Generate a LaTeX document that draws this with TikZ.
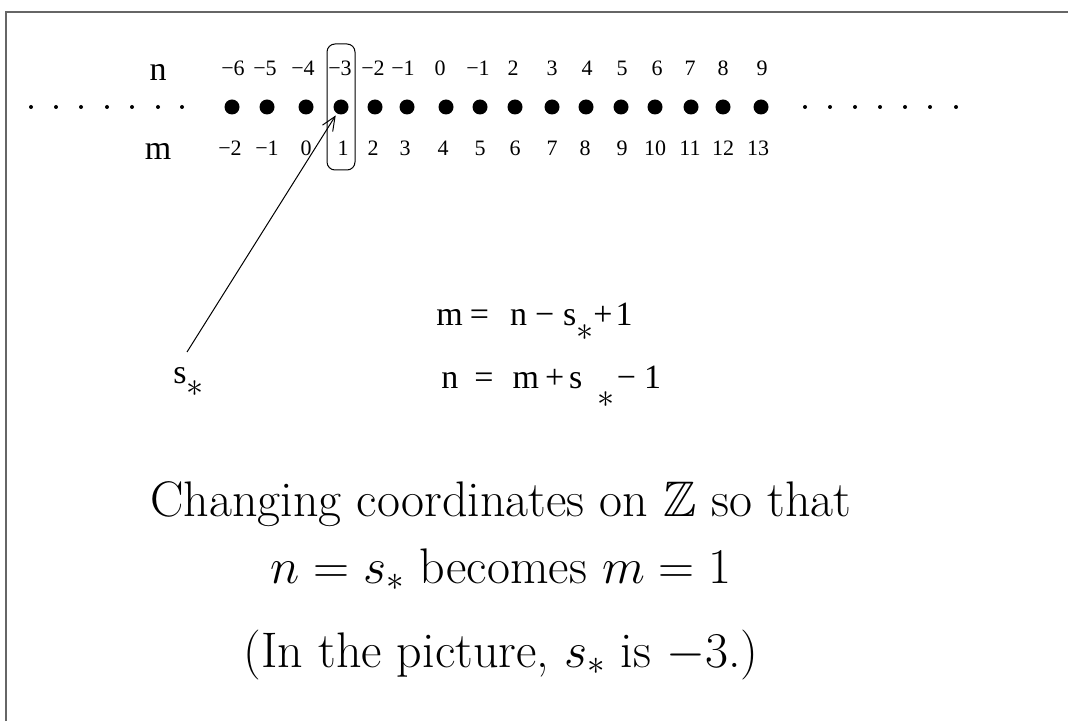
\documentclass[tikz,border=0pt]{standalone}
\usepackage{fix-cm}
\usepackage{amssymb}
\usepackage{fontspec}
\newfontfamily\tms{Liberation Serif}
\usetikzlibrary{arrows.meta}
\begin{document}
\begin{tikzpicture}[x=0.5pt,y=-0.5pt,
  bigdot/.style={circle,fill=black,inner sep=0pt,minimum size=7.5pt},
  smalldot/.style={circle,fill=black,inner sep=0pt,minimum size=2pt},
  numlbl/.style={font=\tms\fontsize{11}{13}\selectfont,inner sep=0pt},
  axislbl/.style={font=\tms\fontsize{17}{20}\selectfont,inner sep=0pt},
  eqn/.style={font=\tms\fontsize{17}{20}\selectfont,inner sep=0pt,anchor=base west},
  bigtext/.style={font=\fontsize{25}{30}\selectfont,inner sep=0pt,anchor=base},
  frameline/.style={draw=black!60,line width=0.75pt},
  colbox/.style={draw,line width=0.5pt,rounded corners=4pt,minimum width=14pt,minimum height=63pt,inner sep=0pt},
  pointer/.style={line width=0.5pt,-{Straight Barb[length=7pt,width=6pt]},shorten >=1pt}]
\useasboundingbox (0,0) rectangle (1068,721);
\draw[frameline] (6,721) -- (6,12) -- (1068,12);
% small dots
\foreach \x [count=\i] in {31,56,81,107,132,158,182}
  \node[smalldot] (l\i) at (\x,107) {};
\foreach \x [count=\i] in {805,830,855,880,905,930,956}
  \node[smalldot] (r\i) at (\x,107) {};
% big dots
\foreach \x [count=\i] in {232,267,306,341,375,407,446,480,515,552,586,621,655,691,723,761}
  \node[bigdot] (d\i) at (\x,107) {};
% axis labels
\node[axislbl] (nlbl) at (158,72) {n};
\node[axislbl] (mlbl) at (158,151) {m};
% n labels
\foreach \x/\t [count=\i] in {233/−6,265/−5,303/−4,340/−3,373/−2,403/−1,440/0,478/−1,513/2,552/3,587/4,622/5,657/6,690/7,723/8,762/9}
  \node[numlbl] (n\i) at (\x,68) {\t};
% m labels
\foreach \x/\t [count=\i] in {230/−2,267/−1,306/0,343/1,373/2,405/3,443/4,480/5,515/6,552/7,585/8,622/9,655/10,690/11,723/12,758/13}
  \node[numlbl] (m\i) at (\x,148) {\t};
% box round the column
\node[colbox] (col) at (341,107) {};
% s_* label and pointer
\node[eqn] (sstar) at (173,383) {s\raisebox{-6.5pt}{$\ast$}};
\coordinate (lstart) at (187,352);
\draw[pointer] (lstart) -- (d4);
% equations
\node[eqn] (eq1) at (436,325) {m\hspace{3.5pt}=\hspace{10.5pt}n\hspace{4pt}−\hspace{4.5pt}s\raisebox{-7.75pt}{$\ast$}+\hspace{1.5pt}1};
\node[eqn] (eq2) at (441,388) {n\hspace{8pt}=\hspace{9.5pt}m\hspace{3pt}+\hspace{2.5pt}s\hspace{7.5pt}\raisebox{-9.5pt}{$\ast$}\hspace{1.25pt}−\hspace{4pt}1};
% caption
\node[bigtext] (t1) at (501,516) {Changing coordinates on $\mathbb{Z}$ so that};
\node[bigtext] (t2) at (501,583) {$n=s_*$ becomes $m=1$};
\node[bigtext] (t3) at (501,667) {(In the picture, $s_*$ is $-3$.)};
\end{tikzpicture}
\end{document}
